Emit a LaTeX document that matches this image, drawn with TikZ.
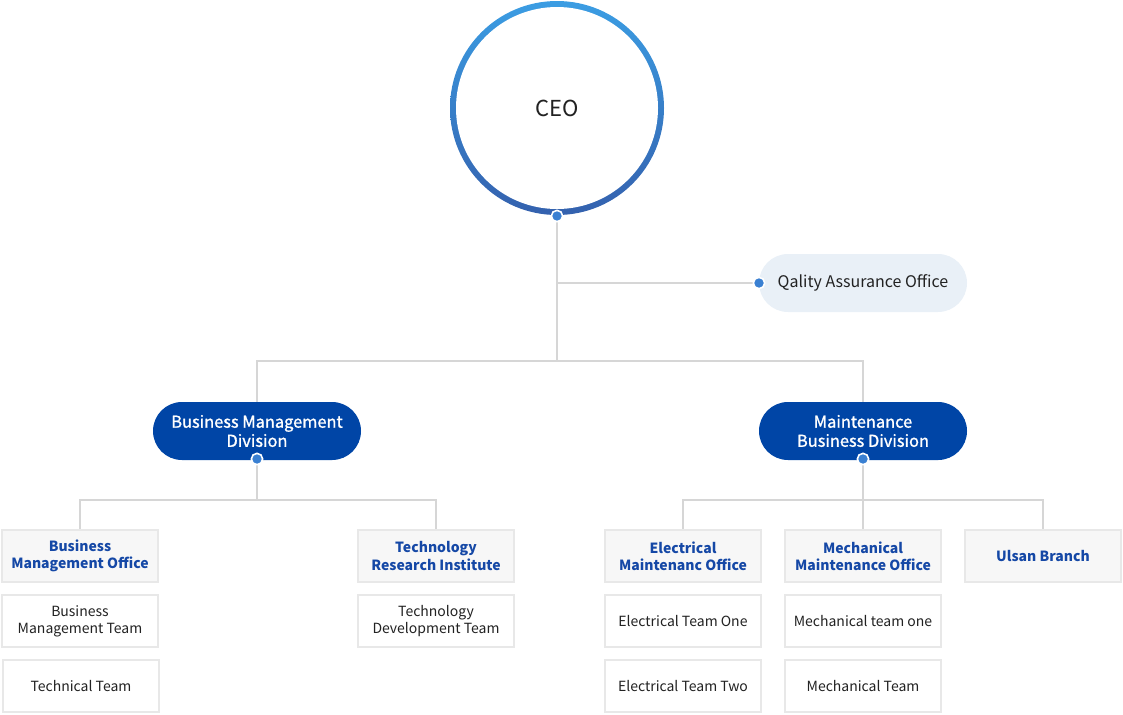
\documentclass[tikz,border=0pt]{standalone}
\usepackage{fontspec}
\setmainfont{Noto Sans CJK KR}
\newfontfamily\divfont{Noto Sans CJK KR}[FakeBold=1.2]
\usetikzlibrary{backgrounds}
\definecolor{ringtop}{HTML}{3B9DE3}
\definecolor{ringbot}{HTML}{3461AE}
\definecolor{divblue}{HTML}{0045A6}
\definecolor{offblue}{HTML}{1548A6}
\definecolor{qafill}{HTML}{E9F0F7}
\definecolor{dotblue}{HTML}{3A80D2}
\definecolor{conncol}{HTML}{D6D6D6}
\definecolor{boxline}{HTML}{E8E8E8}
\definecolor{offfill}{HTML}{F7F7F7}
\definecolor{textdark}{HTML}{222222}
\tikzset{
  conn/.style={draw=conncol, line width=0.9pt},
  dotnode/.style={circle, fill=dotblue, draw=white, line width=1.2pt, minimum size=8.5pt, inner sep=0pt},
  pill/.style={rectangle, rounded corners=21.7pt, minimum width=156pt, minimum height=43.5pt, align=center, inner sep=0pt},
  divpill/.style={pill, fill=divblue, text=white, font=\divfont\fontsize{12.3}{14.3}\selectfont},
  qapill/.style={pill, fill=qafill, text=textdark, font=\fontsize{12}{14}\selectfont},
  officebox/.style={rectangle, draw=boxline, line width=1.5pt, fill=offfill, minimum width=117pt, minimum height=39pt, align=center, inner sep=0pt, text=offblue, font=\bfseries\fontsize{10.5}{12.8}\selectfont},
  teambox/.style={rectangle, draw=boxline, line width=1.5pt, fill=white, minimum width=117pt, minimum height=39pt, align=center, inner sep=0pt, text=textdark, font=\fontsize{10.5}{12.8}\selectfont}
}
\begin{document}
\begin{tikzpicture}[x=0.75pt, y=-0.75pt]
\useasboundingbox (0,0) rectangle (1123,714);
% CEO
\node[circle, minimum size=160.5pt, inner sep=0pt, top color=ringtop, bottom color=ringbot] (ceoring) at (557,108) {};
\node[circle, minimum size=151.5pt, inner sep=0pt, fill=white, text=textdark, font=\fontsize{16.5}{18}\selectfont] (ceo) at (557,108) {CEO};
\node[dotnode] (ceodot) at (557,216) {};
% QA
\node[qapill] (qa) at (863,283) {Qality Assurance Office};
\node[dotnode] (qadot) at (759,283) {};
% divisions
\node[divpill] (bmd) at (257,431) {Business Management\\Division};
\node[dotnode] (bmddot) at (257,459) {};
\node[divpill] (mbd) at (863,431) {Maintenance\\Business Division};
\node[dotnode] (mbddot) at (863,459) {};
% offices
\node[officebox] (bmo) at (80,556) {Business\\Management Office};
\node[officebox] (tri) at (436,556) {Technology\\Research Institute};
\node[officebox] (emo) at (683,556) {Electrical\\Maintenanc Office};
\node[officebox] (mmo) at (863,556) {Mechanical\\Maintenance Office};
\node[officebox] (uls) at (1043,556) {Ulsan Branch};
% teams
\node[teambox] (bmt) at (80,621) {Business\\Management Team};
\node[teambox] (tt) at (81,686) {Technical Team};
\node[teambox] (tdt) at (436,621) {Technology\\Development Team};
\node[teambox] (eto) at (683,621) {Electrical Team One};
\node[teambox] (ett) at (683,686) {Electrical Team Two};
\node[teambox] (mto) at (863,621) {Mechanical team one};
\node[teambox] (mt) at (863,686) {Mechanical Team};
% junctions
\coordinate (j1) at (557,361);
\coordinate (j2) at (257,500);
\coordinate (j3) at (863,500);
\begin{scope}[on background layer]
\draw[conn] (ceodot) -- (j1);
\draw[conn] (ceodot |- qadot) -- (qadot);
\draw[conn] (bmd.north) -- (bmd.north |- j1) -- (mbd.north |- j1) -- (mbd.north);
\draw[conn] (bmddot) -- (j2);
\draw[conn] (bmo.north) -- (bmo.north |- j2) -- (tri.north |- j2) -- (tri.north);
\draw[conn] (mbddot) -- (j3);
\draw[conn] (emo.north) -- (emo.north |- j3) -- (uls.north |- j3) -- (uls.north);
\draw[conn] (j3) -- (mmo.north);
\end{scope}
\end{tikzpicture}
\end{document}
